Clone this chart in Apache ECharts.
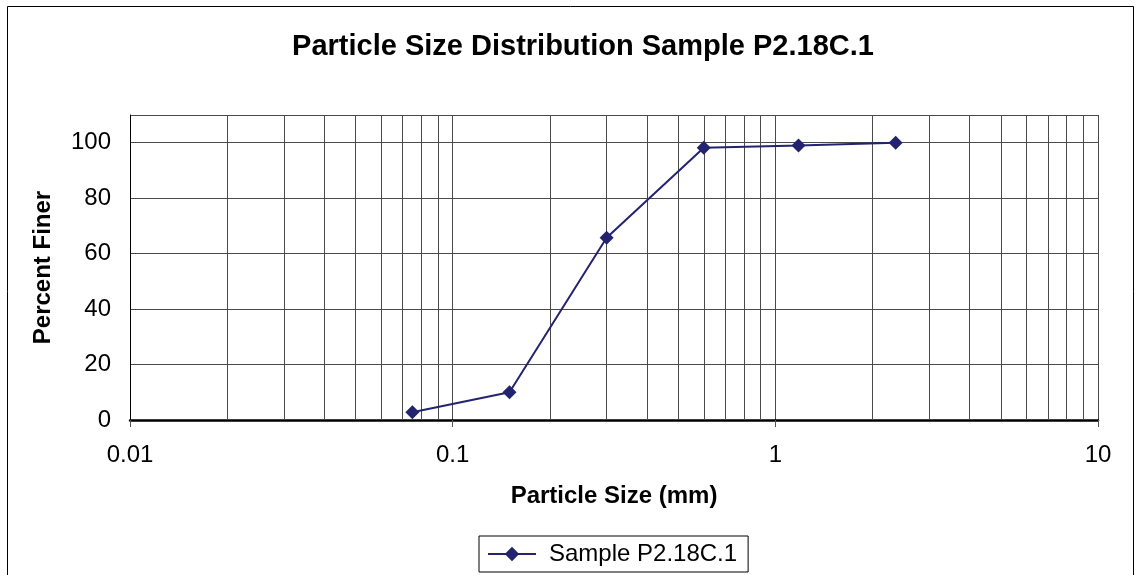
<!DOCTYPE html>
<html>
<head>
<meta charset="utf-8">
<style>
  html, body { margin: 0; padding: 0; background: #ffffff; }
  #chart { width: 1139px; height: 575px; }
</style>
<script src="https://cdn.jsdelivr.net/npm/echarts@6/dist/echarts.min.js"></script>
</head>
<body>
<div id="chart"></div>
<script>
// Sieve results: particle size (mm) and cumulative percent finer
const sizesMm = [0.075, 0.15, 0.3, 0.6, 1.18, 2.36];
const percentFiner = [2.8, 10.0, 65.7, 98.2, 99.0, 100];
const seriesName = 'Sample P2.18C.1';

// Intermediate log-cycle gridlines (2..9 within each decade)
const minorGridSizes = [
  0.02, 0.03, 0.04, 0.05, 0.06, 0.07, 0.08, 0.09,
  0.2, 0.3, 0.4, 0.5, 0.6, 0.7, 0.8, 0.9,
  2, 3, 4, 5, 6, 7, 8, 9
];

const FONT = '"Liberation Sans", Arial, sans-serif';
const GRID_COLOR = '#4a4a4a';
const SERIES_COLOR = '#23236f';

const points = sizesMm.map((s, i) => [s, percentFiner[i]]);

const chart = echarts.init(document.getElementById('chart'), null, { renderer: 'canvas' });

chart.setOption({
  backgroundColor: '#ffffff',
  animation: false,
  title: {
    text: 'Particle Size Distribution Sample P2.18C.1',
    left: 578,
    top: 27,
    textAlign: 'center',
    textStyle: { fontFamily: FONT, fontSize: 29, fontWeight: 'bold', color: '#000' }
  },
  graphic: [{
    type: 'rect',
    shape: { x: 7.5, y: 6.5, width: 1126, height: 620 },
    style: { fill: 'none', stroke: '#000', lineWidth: 1 },
    silent: true,
    z: 0
  }],
  legend: {
    left: 479,
    top: 536,
    padding: [6, 11, 6, 8],
    itemGap: 0,
    itemWidth: 48,
    itemHeight: 18,
    borderColor: '#000',
    borderWidth: 1,
    textStyle: { fontFamily: FONT, fontSize: 24, color: '#000', padding: [0, 0, 0, 8] },
    data: [seriesName]
  },
  grid: { left: 130, top: 115, right: 41, bottom: 155 },
  xAxis: {
    type: 'log',
    logBase: 10,
    min: 0.01,
    max: 10,
    name: 'Particle Size (mm)',
    nameLocation: 'middle',
    nameGap: 64,
    nameTextStyle: { fontFamily: FONT, fontSize: 24, fontWeight: 'bold', color: '#000' },
    axisLine: { show: true, onZero: false, lineStyle: { color: '#000', width: 2.5 } },
    axisTick: { show: true, inside: false, length: 7, lineStyle: { color: '#555', width: 1 } },
    axisLabel: {
      fontFamily: FONT, fontSize: 24, color: '#000', margin: 23,
      formatter: v => String(Number(v.toPrecision(6)))
    },
    splitLine: { show: true, lineStyle: { color: GRID_COLOR, width: 1 } }
  },
  yAxis: {
    type: 'value',
    min: 0,
    max: 110,
    interval: 20,
    name: 'Percent Finer',
    nameLocation: 'middle',
    nameGap: 75,
    nameRotate: 90,
    nameTextStyle: { fontFamily: FONT, fontSize: 24, fontWeight: 'bold', color: '#000' },
    axisLine: { show: true, lineStyle: { color: '#000', width: 1 } },
    axisTick: { show: false },
    axisLabel: {
      fontFamily: FONT, fontSize: 24, color: '#000', margin: 19,
      showMaxLabel: false,
      formatter: v => (v > 100 ? '' : String(v))
    },
    splitLine: { show: true, lineStyle: { color: GRID_COLOR, width: 1 } }
  },
  series: [
    {
      name: '__minorGrid',
      type: 'line',
      data: [],
      silent: true,
      markLine: {
        silent: true,
        symbol: ['none', 'none'],
        label: { show: false },
        animation: false,
        lineStyle: { color: GRID_COLOR, width: 1, type: 'solid' },
        data: minorGridSizes.map(v => ({ xAxis: v }))
      },
      z: 1
    },
    {
      name: seriesName,
      type: 'line',
      data: points,
      symbol: 'diamond',
      symbolSize: 14,
      showSymbol: true,
      lineStyle: { color: SERIES_COLOR, width: 2 },
      itemStyle: { color: SERIES_COLOR },
      z: 5
    }
  ]
});
</script>
</body>
</html>
